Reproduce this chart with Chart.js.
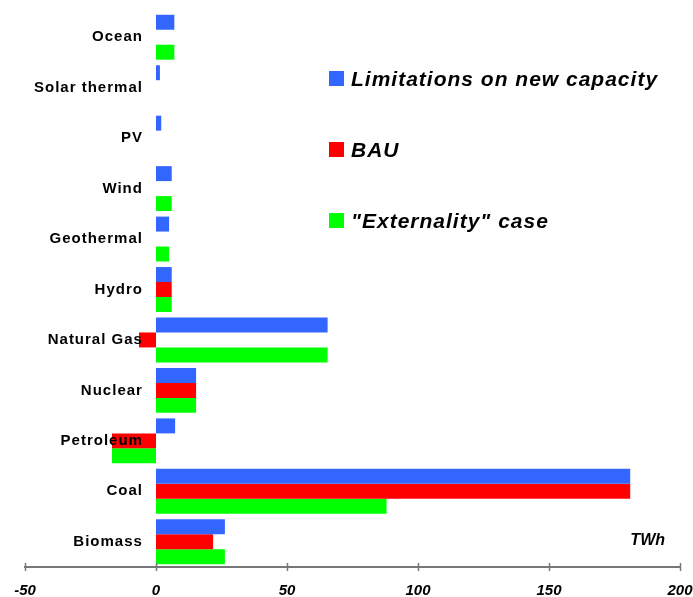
<!DOCTYPE html>
<html>
<head>
<meta charset="utf-8">
<script src="https://cdn.jsdelivr.net/npm/chart.js@4/dist/chart.umd.min.js"></script>
<style>
 body { margin: 0; background: #fff; }
 #wrap { position: relative; width: 693px; height: 597px; }
 #legend { position: absolute; left: 329px; top: 43px; font: italic bold 21px "Liberation Sans", Arial, sans-serif; letter-spacing: 1px; color: #000; }
 #legend div { height: 71px; display: flex; align-items: center; white-space: nowrap; }
 #legend span { display: inline-block; width: 15px; height: 15px; margin-right: 7px; }
</style>
</head>
<body>
<div id="wrap">
 <canvas id="energyChart" width="693" height="597"></canvas>
 <div id="legend"></div>
</div>
<script>
const categories = ['Ocean', 'Solar thermal', 'PV', 'Wind', 'Geothermal', 'Hydro', 'Natural Gas', 'Nuclear', 'Petroleum', 'Coal', 'Biomass'];
const limitations = [7, 1.5, 2, 6, 5, 6, 65.5, 15.3, 7.3, 181, 26.3];
const bau = [0, 0, 0, 0, 0, 6, -6.5, 15.3, -16.8, 181, 21.8];
const externality = [7, 0, 0, 6, 5, 6, 65.5, 15.3, -16.8, 88, 26.3];
const seriesNames = ['Limitations on new capacity', 'BAU', '"Externality" case'];
const seriesColors = ['#3366FF', '#FF0000', '#00FF00'];
const xTicks = [-50, 0, 50, 100, 150, 200];

const fontFamily = '"Liberation Sans", Arial, sans-serif';

// category names are slightly spaced in the original, numbers are not
const spacing = {
 id: 'spacing',
 beforeDraw(chart) { chart.ctx.letterSpacing = '0px'; },
 afterDatasetsDraw(chart) { chart.ctx.letterSpacing = '1px'; }
};

// tick marks that cross the axis line, plus the unit label
const axisExtras = {
 id: 'axisExtras',
 afterDraw(chart) {
  const ctx = chart.ctx;
  const x = chart.scales.x;
  const area = chart.chartArea;
  ctx.save();
  ctx.letterSpacing = '0px';
  ctx.strokeStyle = '#777777';
  ctx.lineWidth = 1.5;
  xTicks.forEach(v => {
   const px = Math.round(x.getPixelForValue(v)) + 0.5;
   ctx.beginPath();
   ctx.moveTo(px, area.bottom - 4);
   ctx.lineTo(px, area.bottom + 4);
   ctx.stroke();
  });
  ctx.fillStyle = '#000';
  ctx.font = 'italic bold 16px ' + fontFamily;
  ctx.textAlign = 'right';
  ctx.textBaseline = 'middle';
  ctx.fillText('TWh', area.right - 15, area.bottom - 26);
  ctx.restore();
 }
};

const noPadding = scale => {
 scale.paddingLeft = 0;
 scale.paddingRight = 0;
 scale.paddingTop = 0;
 scale.paddingBottom = 0;
};

let energyChart = document.getElementById('energyChart').getContext('2d');
let chart1 = new Chart(energyChart, {
 type: 'bar',
 data: {
  labels: categories,
  datasets: [
   { label: seriesNames[0], data: limitations, backgroundColor: seriesColors[0] },
   { label: seriesNames[1], data: bau, backgroundColor: seriesColors[1] },
   { label: seriesNames[2], data: externality, backgroundColor: seriesColors[2] }
  ]
 },
 options: {
  indexAxis: 'y',
  responsive: false,
  animation: false,
  categoryPercentage: 0.89,
  barPercentage: 1,
  layout: { padding: { left: 25, right: 13, top: 12, bottom: 0 } },
  plugins: {
   legend: { display: false },
   tooltip: { enabled: false }
  },
  scales: {
   x: {
    min: -50,
    max: 200,
    afterBuildTicks: scale => { scale.ticks = xTicks.map(v => ({ value: v })); },
    afterFit: scale => { noPadding(scale); scale.height = 30; },
    grid: { display: false, drawTicks: false },
    border: { display: true, color: '#777777', width: 2 },
    ticks: {
     padding: 15,
     color: '#000',
     font: { family: fontFamily, size: 15, style: 'italic', weight: 'bold' }
    }
   },
   y: {
    position: { x: -5 },
    afterFit: noPadding,
    grid: { display: false, drawTicks: false },
    border: { display: false },
    ticks: {
     z: 1,
     padding: 0,
     color: '#000',
     font: { family: fontFamily, size: 15, weight: 'bold' }
    }
   }
  }
 },
 plugins: [spacing, axisExtras]
});

const legend = document.getElementById('legend');
seriesNames.forEach((name, i) => {
 const row = document.createElement('div');
 const box = document.createElement('span');
 box.style.background = seriesColors[i];
 row.appendChild(box);
 row.appendChild(document.createTextNode(name));
 legend.appendChild(row);
});
</script>
</body>
</html>
